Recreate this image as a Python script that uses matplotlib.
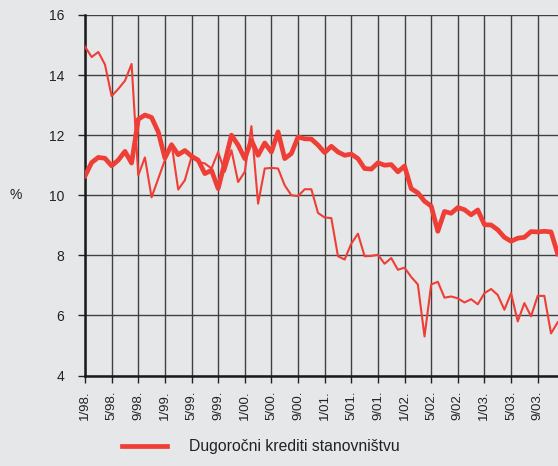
import matplotlib.pyplot as plt

# Kamatne stope na dugorocne kredite, mjesecno 1/98 - 12/03 (%)
mjeseci = list(range(72))

stanovnistvo = [10.64, 11.09, 11.26, 11.23, 10.98, 11.17, 11.46, 11.07, 12.53, 12.67,
                12.59, 12.11, 11.24, 11.68, 11.35, 11.49, 11.30, 11.17, 10.72, 10.83,
                10.22, 11.10, 12.00, 11.67, 11.22, 11.83, 11.33, 11.74, 11.44, 12.11,
                11.22, 11.39, 11.94, 11.88, 11.87, 11.67, 11.42, 11.63, 11.44, 11.33,
                11.37, 11.22, 10.89, 10.87, 11.08, 11.00, 11.02, 10.78, 10.97, 10.22,
                10.08, 9.80, 9.64, 8.80, 9.46, 9.40, 9.59, 9.52, 9.35, 9.51,
                9.02, 9.01, 8.85, 8.60, 8.47, 8.57, 8.60, 8.79, 8.78, 8.80,
                8.78, 8.05]

drugi_krediti = [14.95, 14.60, 14.77, 14.35, 13.30, 13.54, 13.81, 14.37, 10.66, 11.26,
                 9.93, 10.55, 11.17, 11.72, 10.19, 10.50, 11.28, 11.11, 11.06, 10.89,
                 11.44, 10.78, 11.50, 10.44, 10.78, 12.30, 9.72, 10.89, 10.91, 10.89,
                 10.33, 10.00, 9.97, 10.20, 10.20, 9.41, 9.26, 9.24, 7.97, 7.86,
                 8.39, 8.72, 7.97, 7.98, 8.02, 7.72, 7.91, 7.52, 7.59, 7.28,
                 7.03, 5.30, 7.03, 7.12, 6.59, 6.63, 6.57, 6.43, 6.54, 6.37,
                 6.74, 6.88, 6.68, 6.19, 6.74, 5.80, 6.41, 5.97, 6.65, 6.65,
                 5.40, 5.77]

x_oznake = ["1/98.", "5/98.", "9/98.", "1/99.", "5/99.", "9/99.", "1/00.", "5/00.", "9/00.",
            "1/01.", "5/01.", "9/01.", "1/02.", "5/02.", "9/02.", "1/03.", "5/03.", "9/03."]
y_oznake = [4, 6, 8, 10, 12, 14, 16]

pozadina = "#e6e7e9"
crvena = "#ef3e36"

plt.rcParams["font.family"] = ["Liberation Sans", "DejaVu Sans"]

fig = plt.figure(figsize=(5.58, 4.66), dpi=100, facecolor=pozadina)
ax = fig.add_axes([85 / 558, 90.5 / 466, 473 / 558, 360.5 / 466])
ax.set_facecolor(pozadina)

ax.plot(mjeseci, drugi_krediti, color=crvena, lw=1.5, zorder=3)
linija, = ax.plot(mjeseci, stanovnistvo, color=crvena, lw=3.4, zorder=4,
                  solid_joinstyle="round")

ax.set_xlim(0, 71.05)
ax.set_ylim(4, 16)
ax.set_yticks(y_oznake)
ax.set_xticks(range(0, 72, 4))
ax.set_xticklabels(x_oznake, rotation=90)

ax.grid(True, color="#404040", lw=1.0, zorder=1)
for s in ["top", "right"]:
    ax.spines[s].set_visible(False)
for s in ["left", "bottom"]:
    ax.spines[s].set_linewidth(1.8)
    ax.spines[s].set_color("#1a1a1a")

ax.tick_params(axis="y", direction="out", length=5, width=1, pad=10,
               labelsize=10, colors="#222222")
ax.tick_params(axis="x", direction="out", length=5, width=1, pad=6,
               labelsize=9.5, colors="#222222")

fig.text(16 / 558, 1 - 195 / 466, "%", fontsize=10, color="#222222",
         ha="center", va="center")

fig.legend([linija], ["Dugoročni krediti stanovništvu"], loc="center left",
           bbox_to_anchor=(108 / 558, 1 - 447 / 466), frameon=False,
           fontsize=11.3, handlelength=2.85, handletextpad=1.4,
           labelcolor="#222222")

plt.savefig("out.png", dpi=100, facecolor=pozadina)
